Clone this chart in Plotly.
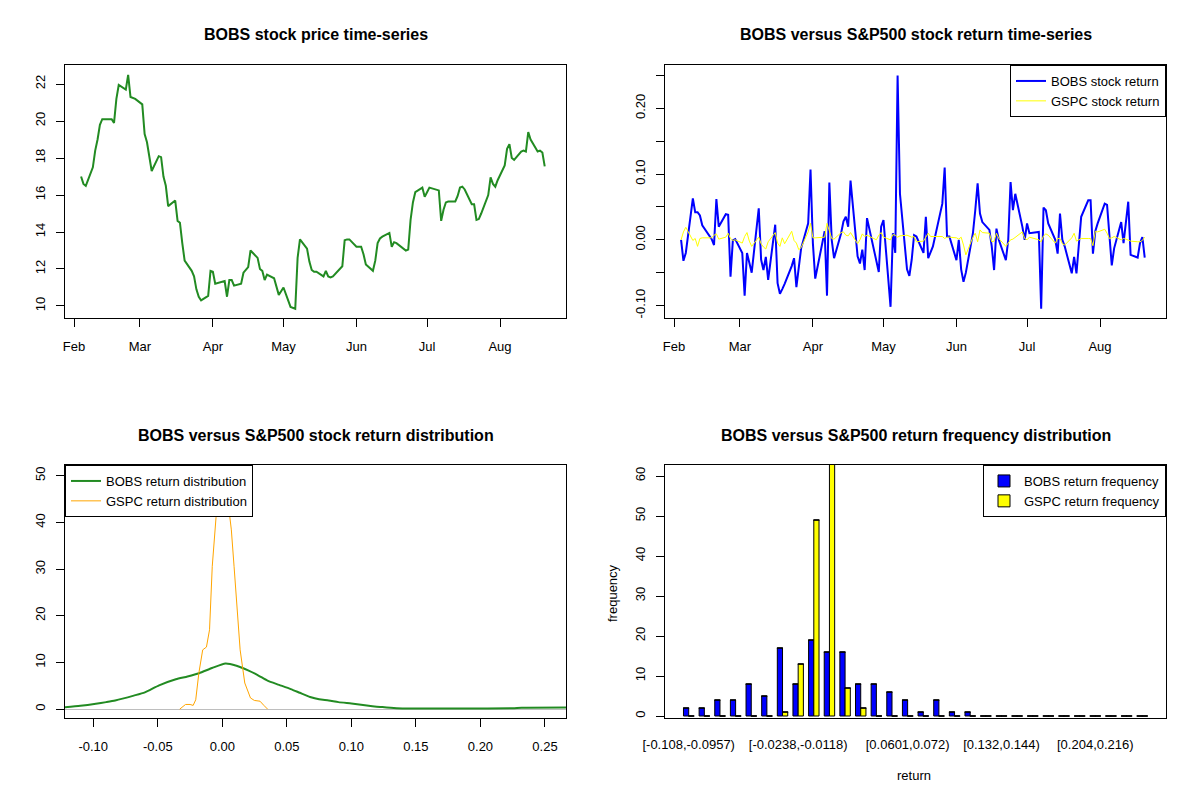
import plotly.graph_objects as go

# ---- trading days (2015), one list per month ----
feb_days = [4, 5, 6, 9, 10, 11, 12, 13, 17, 18, 19, 20, 23, 24, 25, 26, 27]
mar_days = [2, 3, 4, 5, 6, 9, 10, 11, 12, 13, 16, 17, 18, 19, 20, 23, 24, 25, 26, 27, 30, 31]
apr_days = [1, 2, 6, 7, 8, 9, 10, 13, 14, 15, 16, 17, 20, 21, 22, 23, 24, 27, 28, 29, 30]
may_days = [1, 4, 5, 6, 7, 8, 11, 12, 13, 14, 15, 18, 19, 20, 21, 22, 26, 27, 28, 29]
jun_days = [1, 2, 3, 4, 5, 8, 9, 10, 11, 12, 15, 16, 17, 18, 19, 22, 23, 24, 25, 26, 29, 30]
jul_days = [1, 2, 6, 7, 8, 9, 10, 13, 14, 15, 16, 17, 20, 21, 22, 23, 24, 27, 28, 29, 30, 31]
aug_days = [3, 4, 5, 6, 7, 10, 11, 12, 13, 14, 17, 18, 19, 20]

# ---- BOBS closing price ----
bobs_price = [
    17.0, 16.6, 16.5, 17.5, 18.4, 19.0, 19.8, 20.1, 20.1, 19.9, 21.2, 21.95, 21.7, 22.5, 21.3, 21.25, 21.2,
    20.9, 19.3, 18.85, 18.1, 17.3, 18.1, 18.05, 17.0, 16.5, 15.4, 15.7, 14.6, 14.5, 13.4, 12.45, 11.9,
    11.6, 10.9, 10.5, 10.3, 10.55, 11.9,
    11.85, 11.2, 11.35, 10.5, 11.4, 11.4, 11.1, 11.2, 11.8, 11.95, 12.1, 13.0, 12.6, 12.0, 11.9, 11.4,
    11.7, 11.5, 11.0, 10.6, 10.8,
    11.0, 9.95, 9.9, 9.85, 12.6, 13.6, 13.1, 12.4, 11.95, 11.85, 11.85, 11.6, 11.9, 11.6, 11.55, 11.6,
    12.15, 13.55, 13.6, 13.6,
    13.2, 13.2, 13.2, 12.8, 12.25, 11.9, 12.45, 13.4, 13.65, 13.75, 13.95, 13.2, 13.45, 13.4, 13.3, 13.0,
    13.05, 14.65, 15.6, 16.15, 16.4, 15.9,
    16.15, 16.4, 16.25, 14.6, 15.2, 15.6, 15.65, 15.65, 15.95, 16.4, 16.45, 16.3, 15.5, 15.5, 14.65, 14.7,
    15.0, 16.0, 16.95, 16.6, 16.45, 16.8,
    17.6, 18.5, 18.75, 18.0, 17.9, 18.35, 18.4, 18.35, 19.4, 19.0, 18.35, 18.4, 18.3, 17.55,
]

# ---- daily returns ----
bobs_ret = [
    0.000, -0.032, -0.020, 0.063, 0.042, 0.042, 0.037, 0.022, 0.001, -0.008, 0.062, 0.020, 0.039, 0.038,
    -0.056, -0.001, 0.001,
    -0.020, -0.085, -0.020, -0.035, -0.050, 0.048, -0.030, -0.046, -0.026, -0.061, 0.023, -0.066, -0.082,
    -0.075, -0.067, -0.040, -0.028, -0.072, -0.041, -0.013, 0.025, 0.107,
    -0.005, -0.059, 0.013, -0.085, 0.087, 0.000, -0.028, 0.010, 0.028, 0.035, 0.020, 0.090, -0.025, -0.036,
    -0.015, -0.046, 0.033, -0.015, -0.031, -0.049, 0.020,
    0.030, -0.102, 0.010, -0.020, 0.250, 0.070, -0.045, -0.055, -0.030, 0.007, 0.005, -0.020, 0.035, -0.028,
    -0.020, -0.010, 0.055, 0.110, 0.005, 0.005,
    -0.031, 0.000, -0.045, -0.064, -0.050, 0.010, 0.045, 0.086, 0.040, 0.027, 0.015, -0.010, -0.046, 0.017,
    0.000, -0.031, 0.000, 0.088, 0.045, 0.070, 0.020, 0.000,
    0.025, 0.010, 0.012, -0.105, 0.049, 0.045, 0.025, 0.000, -0.021, 0.040, 0.000, -0.010, -0.051, -0.026,
    -0.051, -0.005, 0.035, 0.060, 0.060, -0.021, 0.013, 0.025,
    0.055, 0.053, 0.000, -0.039, -0.013, 0.027, -0.005, 0.025, 0.058, -0.023, -0.027, -0.005, 0.004, -0.027,
]
gspc_ret = [
    0.000, 0.012, 0.019, -0.001, 0.002, -0.010, 0.002, 0.003, 0.003, 0.007, 0.009, 0.001, 0.004, 0.010,
    0.002, -0.001, 0.000,
    -0.005, 0.005, 0.011, -0.002, -0.010, 0.004, -0.006, -0.011, -0.014, -0.003, 0.011, -0.005, -0.010,
    0.003, -0.006, 0.013, -0.001, -0.005, -0.015, -0.012, 0.012, 0.025,
    0.003, 0.003, 0.004, 0.025, 0.012, 0.002, 0.001, 0.011, 0.012, 0.007, 0.006, 0.011, -0.006, 0.000,
    0.009, 0.005, 0.007, 0.002, 0.000, 0.007, 0.011,
    0.004, 0.000, 0.008, 0.007, 0.004, 0.006, 0.007, 0.006, 0.004, 0.005, -0.003, -0.002, 0.005, 0.010,
    0.005, 0.005, 0.005, 0.002, 0.004, 0.004,
    0.003, 0.001, 0.004, -0.008, -0.023, 0.004, 0.010, -0.003, 0.015, 0.011, 0.010, -0.003, -0.002, 0.010,
    0.002, -0.010, -0.005, 0.000, 0.001, 0.004, 0.012, 0.002,
    0.000, 0.004, 0.000, -0.003, 0.006, 0.009, 0.007, -0.005, 0.002, 0.002, -0.006, -0.008, 0.003, 0.010,
    -0.002, 0.000, 0.002, 0.002, 0.002, -0.009, 0.013, 0.012,
    0.016, 0.010, 0.002, 0.003, 0.005, 0.000, 0.002, 0.001, -0.001, -0.002, -0.003, -0.003, -0.001, 0.004,
]

# ---- return densities ----
bobs_dens_x = [-0.1219, -0.110, -0.098, -0.090, -0.083, -0.0686, -0.060, -0.049, -0.036, -0.027, -0.018,
               -0.008, 0.0025, 0.011, 0.020, 0.028, 0.035, 0.044, 0.053, 0.060, 0.068, 0.075, 0.0825,
               0.090, 0.100, 0.112, 0.124, 0.135, 0.150, 0.200, 0.225, 0.232, 0.2663]
bobs_dens_y = [0.40, 0.70, 1.14, 1.50, 1.86, 2.90, 3.60, 5.10, 6.40, 7.00, 7.70,
               8.80, 9.80, 9.30, 8.30, 7.20, 6.10, 5.20, 4.30, 3.50, 2.60, 2.10, 1.86,
               1.50, 1.20, 0.80, 0.43, 0.20, 0.15, 0.15, 0.18, 0.30, 0.35]
gspc_dens_x = [-0.0330, -0.0285, -0.0250, -0.0226, -0.0206, -0.0182, -0.0152, -0.0123, -0.0099,
               -0.0078, -0.0049, -0.0020, 0.0010, 0.0040, 0.0046, 0.0070, 0.0091, 0.0114, 0.0138,
               0.0174, 0.0218, 0.0248, 0.0292, 0.0322, 0.0351]
gspc_dens_y = [0.0, 1.0, 1.0, 0.8, 2.0, 7.7, 12.7, 13.3, 17.0,
               30.6, 41.0, 48.5, 50.2, 47.0, 44.0, 38.4, 30.6, 21.3, 12.7,
               5.6, 2.4, 1.86, 1.7, 0.8, 0.0]

# ---- return frequency table ----
bin_edges = ["-0.108", "-0.0957", "-0.0837", "-0.0717", "-0.0598", "-0.0478", "-0.0358", "-0.0238",
             "-0.0118", "0.000174", "0.0122", "0.0241", "0.0361", "0.0481", "0.0601", "0.072", "0.0841",
             "0.0961", "0.108", "0.12", "0.132", "0.144", "0.156", "0.168", "0.18", "0.192", "0.204",
             "0.216", "0.228", "0.24", "0.252"]
bobs_freq = [2, 2, 4, 4, 8, 5, 17, 8, 19, 16, 16, 8, 8, 6, 4, 1, 4, 1, 1, 0, 0, 0, 0, 0, 0, 0, 0, 0, 0, 0]
gspc_freq = [0, 0, 0, 0, 0, 0, 1, 13, 49, 63, 7, 2, 0, 0, 0, 0, 0, 0, 0, 0, 0, 0, 0, 0, 0, 0, 0, 0, 0, 0]
shown_bins = [0, 7, 14, 20, 26]

# ---- tick labels ----
month_ticks = ["2015-02-01", "2015-03-01", "2015-04-01", "2015-05-01", "2015-06-01", "2015-07-01", "2015-08-01"]
month_labels = ["Feb", "Mar", "Apr", "May", "Jun", "Jul", "Aug"]
price_ticks = [10, 12, 14, 16, 18, 20, 22]
ret_ticks = [-0.10, -0.05, 0.00, 0.05, 0.10, 0.15, 0.20, 0.25]
ret_labels = ["-0.10", "", "0.00", "", "0.10", "", "0.20", ""]
dens_xticks = [-0.10, -0.05, 0.00, 0.05, 0.10, 0.15, 0.20, 0.25]
dens_xlabels = ["-0.10", "-0.05", "0.00", "0.05", "0.10", "0.15", "0.20", "0.25"]
dens_yticks = [0, 10, 20, 30, 40, 50]
freq_ticks = [0, 10, 20, 30, 40, 50, 60]

dates = []
for m, days in [(2, feb_days), (3, mar_days), (4, apr_days), (5, may_days),
                (6, jun_days), (7, jul_days), (8, aug_days)]:
    dates += [f"2015-{m:02d}-{d:02d}" for d in days]

bin_labels = [f"[{a},{b})" for a, b in zip(bin_edges[:-1], bin_edges[1:])]

# page pixels -> paper fractions (the page body adds an 8px margin)
W, H, OFF = 1192, 792, 8


def px(x):
    return (x - OFF) / W


def py(y):
    return 1 - (y - OFF) / H


FONT = "Liberation Sans, Arial, sans-serif"
tickfont = dict(family=FONT, size=13, color="black")

fig = go.Figure()

fig.add_trace(go.Scatter(x=dates, y=bobs_price, mode="lines", showlegend=False,
                         line=dict(color="forestgreen", width=2), xaxis="x", yaxis="y"))

fig.add_trace(go.Scatter(x=dates, y=bobs_ret, mode="lines", name="BOBS stock return",
                         line=dict(color="blue", width=2), xaxis="x2", yaxis="y2", legend="legend"))
fig.add_trace(go.Scatter(x=dates, y=gspc_ret, mode="lines", name="GSPC stock return",
                         line=dict(color="yellow", width=1), xaxis="x2", yaxis="y2", legend="legend"))

fig.add_trace(go.Scatter(x=bobs_dens_x, y=bobs_dens_y, mode="lines", name="BOBS return distribution",
                         line=dict(color="forestgreen", width=2, shape="spline", smoothing=0.6),
                         xaxis="x3", yaxis="y3", legend="legend2"))
fig.add_trace(go.Scatter(x=gspc_dens_x, y=gspc_dens_y, mode="lines", name="GSPC return distribution",
                         line=dict(color="orange", width=1), xaxis="x3", yaxis="y3", legend="legend2"))

# zero-width error caps draw R's flat outline for empty bars
zero_caps = dict(type="constant", value=0, width=3, thickness=1, color="black")
fig.add_trace(go.Bar(x=bin_labels, y=bobs_freq, name="BOBS return frequency",
                     marker=dict(color="blue", line=dict(color="black", width=1)),
                     error_y=zero_caps, xaxis="x4", yaxis="y4", legend="legend3"))
fig.add_trace(go.Bar(x=bin_labels, y=gspc_freq, name="GSPC return frequency",
                     marker=dict(color="yellow", line=dict(color="black", width=1)),
                     error_y=zero_caps, xaxis="x4", yaxis="y4", legend="legend3"))

box = dict(showline=True, mirror=True, linecolor="black", linewidth=1, showgrid=False,
           zeroline=False, tickfont=tickfont, ticks="outside", ticklen=8, tickcolor="black",
           automargin=False)

left_dom = [px(65), px(566)]
right_dom = [px(665), px(1166)]
top_dom = [py(318), py(65)]
bot_dom = [py(718), py(465)]
date_range = ["2015-01-28 04:00", "2015-08-29 01:00"]

legend_style = dict(bgcolor="white", bordercolor="black", borderwidth=1,
                    font=dict(family=FONT, size=13, color="black"), tracegroupgap=0)

fig.update_layout(
    template="none",
    width=W, height=H,
    margin=dict(l=0, r=0, t=0, b=0, autoexpand=False),
    paper_bgcolor="white", plot_bgcolor="white",
    barmode="group", bargap=1 / 3, bargroupgap=0,
    xaxis=dict(box, domain=left_dom, anchor="y", type="date", range=date_range,
               tickvals=month_ticks, ticktext=month_labels, ticklabelstandoff=8),
    yaxis=dict(box, domain=top_dom, anchor="x", range=[9.35, 23.03],
               tickvals=price_ticks, tickangle=-90, ticklabelstandoff=6),
    xaxis2=dict(box, domain=right_dom, anchor="y2", type="date", range=date_range,
                tickvals=month_ticks, ticktext=month_labels, ticklabelstandoff=8),
    yaxis2=dict(box, domain=top_dom, anchor="x2", range=[-0.119, 0.266],
                tickvals=ret_ticks, ticktext=ret_labels, tickangle=-90, ticklabelstandoff=6),
    xaxis3=dict(box, domain=left_dom, anchor="y3", range=[-0.1219, 0.2663],
                tickvals=dens_xticks, ticktext=dens_xlabels, ticklabelstandoff=8),
    yaxis3=dict(box, domain=bot_dom, anchor="x3", range=[-1.9, 52.3],
                tickvals=dens_yticks, tickangle=-90, ticklabelstandoff=6,
                zeroline=True, zerolinecolor="#BEBEBE", zerolinewidth=1),
    xaxis4=dict(box, domain=right_dom, anchor="y4", type="category", range=[-1.515, 30.52],
                ticks="", tickvals=[bin_labels[i] for i in shown_bins], ticklabelstandoff=14),
    yaxis4=dict(box, domain=bot_dom, anchor="x4", range=[-0.5, 62.75],
                tickvals=freq_ticks, tickangle=-90, ticklabelstandoff=6),
    legend=dict(legend_style, x=right_dom[1], xanchor="right", y=top_dom[1], yanchor="top"),
    legend2=dict(legend_style, x=left_dom[0], xanchor="left", y=bot_dom[1], yanchor="top"),
    legend3=dict(legend_style, x=right_dom[1], xanchor="right", y=bot_dom[1], yanchor="top"),
)

titles = [
    ("BOBS stock price time-series", 315.5, 35),
    ("BOBS versus S&P500 stock return time-series", 915.5, 35),
    ("BOBS versus S&P500 stock return distribution", 315.5, 435),
    ("BOBS versus S&P500 return frequency distribution", 915.5, 435),
]
for text, x, y in titles:
    fig.add_annotation(text=f"<b>{text}</b>", x=px(x), y=py(y), xref="paper", yref="paper",
                       xanchor="center", yanchor="middle", showarrow=False,
                       font=dict(family=FONT, size=16, color="black"))

fig.add_annotation(text="return", x=px(914), y=py(775), xref="paper", yref="paper",
                   xanchor="center", yanchor="middle", showarrow=False,
                   font=dict(family=FONT, size=13, color="black"))
fig.add_annotation(text="frequency", x=px(612), y=py(593), xref="paper", yref="paper",
                   xanchor="center", yanchor="middle", showarrow=False, textangle=-90,
                   font=dict(family=FONT, size=13, color="black"))

fig.write_html("out.html")
